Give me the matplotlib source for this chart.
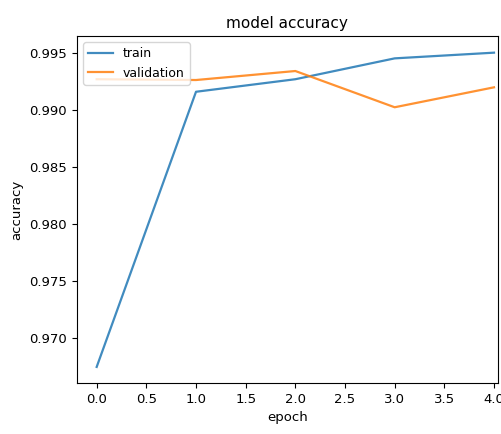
import matplotlib
matplotlib.use("Agg")
import matplotlib.pyplot as plt

epochs = [0, 1, 2, 3, 4]
train_acc = [0.96746, 0.99160, 0.99270, 0.99453, 0.99503]
val_acc = [0.99270, 0.99263, 0.99342, 0.99024, 0.99199]

fig = plt.figure(figsize=(5.02, 4.34), dpi=100)
ax = fig.add_axes([0.153, 0.1175, 0.839, 0.7995])
ax.plot(epochs, train_acc, color="#1f77b4", lw=1.6, alpha=0.85, label="train")
ax.plot(epochs, val_acc, color="#ff7f0e", lw=1.6, alpha=0.85, label="validation")
ax.set_xlim(-0.2, 4.04)
ax.set_ylim(0.96605, 0.99649)
ax.set_xticks([0.0, 0.5, 1.0, 1.5, 2.0, 2.5, 3.0, 3.5, 4.0])
ax.set_yticks([0.970, 0.975, 0.980, 0.985, 0.990, 0.995])
ax.set_yticklabels(["0.970", "0.975", "0.980", "0.985", "0.990", "0.995"])
ax.tick_params(labelsize=9.5)
ax.set_title("model accuracy", fontsize=11)
ax.set_xlabel("epoch", fontsize=9.5)
ax.set_ylabel("accuracy", fontsize=9.5)
ax.legend(loc="upper left", fontsize=9)
fig.savefig("out.png", dpi=100)
